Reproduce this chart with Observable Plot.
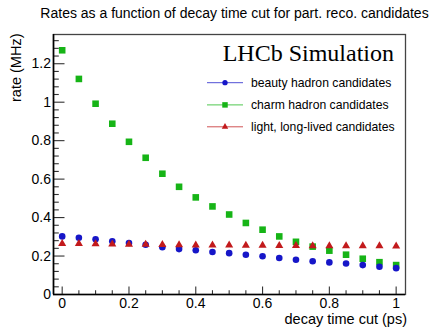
<!DOCTYPE html>
<html>
<head>
<meta charset="utf-8">
<script src="https://cdn.jsdelivr.net/npm/d3@7"></script>
<script src="https://cdn.jsdelivr.net/npm/@observablehq/plot@0.6"></script>
<style>
  html, body { margin: 0; padding: 0; background: #fff; }
  #chart svg { display: block; }
</style>
</head>
<body>
<div id="chart"></div>
<script>
// Decay time cut (ps) and the resulting candidate rates (MHz)
const decayTimeCut = [0, 0.05, 0.1, 0.15, 0.2, 0.25, 0.3, 0.35, 0.4, 0.45, 0.5,
                      0.55, 0.6, 0.65, 0.7, 0.75, 0.8, 0.85, 0.9, 0.95, 1];
const beautyRate = [0.302, 0.295, 0.287, 0.277, 0.268, 0.259, 0.246, 0.236, 0.230, 0.221, 0.215,
                    0.207, 0.199, 0.190, 0.181, 0.173, 0.167, 0.161, 0.153, 0.144, 0.137];
const charmRate = [1.270, 1.121, 0.992, 0.888, 0.794, 0.711, 0.628, 0.560, 0.505, 0.458, 0.416,
                   0.372, 0.337, 0.302, 0.274, 0.249, 0.228, 0.207, 0.186, 0.168, 0.153];
const lightRate = [0.264, 0.264, 0.263, 0.262, 0.261, 0.260, 0.259, 0.258, 0.257, 0.256, 0.256,
                   0.255, 0.255, 0.254, 0.254, 0.253, 0.253, 0.252, 0.252, 0.252, 0.251];

const seriesNames = ["beauty hadron candidates", "charm hadron candidates", "light, long-lived candidates"];
const seriesValues = [beautyRate, charmRate, lightRate];
const seriesSymbols = ["circle", "square", "triangle"];
const seriesColors = ["#1616c8", "#16b416", "#c21a1c"];

const xTicks = [0, 0.2, 0.4, 0.6, 0.8, 1];
const yTicks = [0, 0.2, 0.4, 0.6, 0.8, 1, 1.2];

const titleText = "Rates as a function of decay time cut for part. reco. candidates";
const xLabel = "decay time cut (ps)";
const yLabel = "rate (MHz)";
const stampText = "LHCb Simulation";

// Layout
const W = 430, H = 327;
const margin = {top: 34, right: 25, bottom: 33, left: 53};
const frameW = W - margin.left - margin.right;
const frameH = H - margin.top - margin.bottom;
const xDomain = [-0.026, 1.028];
const yDomain = [0, 1.352];
const sans = "'Liberation Sans', Arial, Helvetica, sans-serif";

const xMinor = d3.range(0, 1.0001, 0.05).filter(v => !xTicks.some(t => Math.abs(t - v) < 1e-9));
const yMinor = d3.range(0, 1.35, 0.04).filter(v => !yTicks.some(t => Math.abs(t - v) < 1e-9));

// Long-format rows for the dots
const rows = seriesNames.flatMap((name, s) =>
  decayTimeCut.map((t, i) => ({series: name, t, rate: seriesValues[s][i], s})));

const majorY = 11.5, minorY = 5.8, majorX = 7.5, minorX = 3.8;
const tickStroke = "#333";

const chart = Plot.plot({
  width: W,
  height: H,
  marginTop: margin.top,
  marginRight: margin.right,
  marginBottom: margin.bottom,
  marginLeft: margin.left,
  style: {fontFamily: sans, fontSize: "14px", background: "#fff", color: "#000"},
  x: {domain: xDomain},
  y: {domain: yDomain},
  marks: [
    Plot.frame({stroke: "#444", strokeWidth: 1.3}),
    // inward ticks on the left axis
    Plot.tickY(yTicks, {y: d => d, stroke: tickStroke, strokeWidth: 1.1, insetRight: frameW - majorY}),
    Plot.tickY(yMinor, {y: d => d, stroke: tickStroke, strokeWidth: 1.1, insetRight: frameW - minorY}),
    // inward ticks on the bottom axis
    Plot.tickX(xTicks, {x: d => d, stroke: tickStroke, strokeWidth: 1.1, insetTop: frameH - majorX}),
    Plot.tickX(xMinor, {x: d => d, stroke: tickStroke, strokeWidth: 1.1, insetTop: frameH - minorX}),
    Plot.ruleY([yDomain[0]], {stroke: "#000", strokeWidth: 1.6}),
    Plot.ruleX([xDomain[0]], {stroke: "#000", strokeWidth: 1.6}),
    Plot.axisY({ticks: yTicks, tickSize: 0, tickPadding: 2.5, label: null, fontSize: 14, tickFormat: d3.format("~g")}),
    Plot.axisX({ticks: xTicks, tickSize: 0, tickPadding: 4, label: null, fontSize: 14, tickFormat: d3.format("~g")}),
    Plot.dot(rows, {
      x: "t", y: "rate",
      symbol: d => seriesSymbols[d.s],
      fill: d => seriesColors[d.s],
      r: d => [3.4, 4.3, 2.8][d.s],
      stroke: "none"
    }),
    Plot.text([titleText], {frameAnchor: "top", textAnchor: "middle", lineAnchor: "bottom",
      dx: 5, dy: -16.5, fontSize: 14, fill: "#000"}),
    Plot.text([stampText], {frameAnchor: "top-right", textAnchor: "end", lineAnchor: "bottom",
      dx: -11.5, dy: 26, fontSize: 24, fontFamily: "'Liberation Serif', 'Times New Roman', serif", fill: "#000"}),
    Plot.text([xLabel], {frameAnchor: "bottom-right", textAnchor: "end", lineAnchor: "bottom",
      dx: 1.5, dy: 29, fontSize: 14.5, fill: "#000"}),
    Plot.text([yLabel], {frameAnchor: "top-left", textAnchor: "end", lineAnchor: "bottom",
      rotate: -90, dx: -33, dy: -1, fontSize: 14.5, fill: "#000"})
  ]
});

// Legend entries: line, marker, label
const svg = d3.select(chart);
const legend = svg.append("g")
  .attr("font-family", sans)
  .attr("font-size", 12.2)
  .attr("text-anchor", "start");
const legendRowY = [82.7, 104.9, 126.8];
const legendSizes = [22, 30, 18];
seriesNames.forEach((name, s) => {
  const row = legend.append("g").attr("transform", `translate(0,${legendRowY[s]})`);
  row.append("line").attr("x1", 207).attr("x2", 243).attr("y1", 0).attr("y2", 0)
    .attr("stroke", seriesColors[s]).attr("stroke-width", 1).attr("stroke-opacity", 0.75);
  row.append("path")
    .attr("transform", "translate(225,0)")
    .attr("d", d3.symbol(d3["symbol" + seriesSymbols[s][0].toUpperCase() + seriesSymbols[s].slice(1)], legendSizes[s])())
    .attr("fill", seriesColors[s]);
  row.append("text")
    .attr("x", 251).attr("y", 0).attr("dy", "0.35em")
    .attr("text-anchor", "start")
    .attr("fill", "#000")
    .text(name);
});

document.getElementById("chart").appendChild(chart);
</script>
</body>
</html>
